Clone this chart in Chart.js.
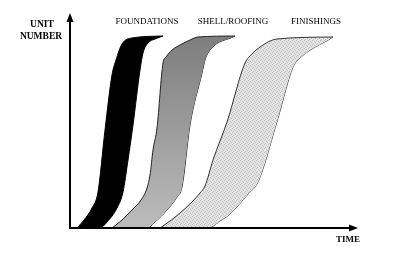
<!DOCTYPE html>
<html>
<head>
<meta charset="utf-8">
<script src="https://cdn.jsdelivr.net/npm/chart.js@4.4.1/dist/chart.umd.min.js"></script>
<style>
  html, body { margin: 0; padding: 0; background: #fff; }
  #wrap { width: 394px; height: 257px; position: relative; }
</style>
</head>
<body>
<div id="wrap"><canvas id="c" width="394" height="257"></canvas></div>
<script>
// Time (x) vs unit number (y) boundaries of each activity band (line of balance)
const foundationsStart = [[7,0],[14,8],[22,20],[28,36],[35,98],[42,153],[46,168],[52,184],[62,190],[93,192]];
const foundationsEnd   = [[7,0],[30,0],[37,6],[47,20],[53,36],[58,68],[63,103],[70,158],[73,175],[78,185],[85,189],[93,192]];
const shellStart       = [[42,0],[52,8],[62,18],[71,28],[77,40],[80,53],[83,78],[87,100],[93,165],[96,171],[102,178],[110,183],[120,188],[128,191],[165,192]];
const shellEnd         = [[42,0],[77,0],[85,6],[97,18],[107,31],[112,41],[120,103],[132,155],[135,168],[140,178],[165,192]];
const finishStart      = [[90,0],[100,7],[110,15],[122,26],[130,35],[135,42],[143,68],[157,106],[175,165],[182,174],[190,181],[207,189],[263,191]];
const finishEnd        = [[90,0],[138,0],[150,7],[160,14],[178,34],[188,46],[206,103],[223,161],[227,167],[263,191]];
const activityLabels   = ['FOUNDATIONS', 'SHELL/ROOFING', 'FINISHINGS'];
const axisLabels       = { y: ['UNIT', 'NUMBER'], x: 'TIME' };

const toPts = a => a.map(p => ({ x: p[0], y: p[1] }));

function stipple(base, dot) {
  const c = document.createElement('canvas');
  c.width = 4; c.height = 4;
  const g = c.getContext('2d');
  g.fillStyle = base; g.fillRect(0, 0, 4, 4);
  g.fillStyle = dot;
  g.fillRect(0, 0, 1, 1); g.fillRect(2, 1, 1, 1); g.fillRect(1, 3, 1, 1); g.fillRect(3, 2, 1, 1);
  return g.createPattern(c, 'repeat');
}
const ctx0 = document.getElementById('c').getContext('2d');
const finishFill = stipple('#e4e4e4', '#bdbdbd');

function shellFill(context) {
  const ch = context.chart; const a = ch.chartArea;
  if (!a) return '#999';
  const g = ch.ctx.createLinearGradient(0, a.top, 0, a.bottom);
  g.addColorStop(0, '#767676');
  g.addColorStop(1, '#bcbcbc');
  return g;
}

const base = { pointRadius: 0, cubicInterpolationMode: 'monotone', borderWidth: 1 };

const textPlugin = {
  id: 'lobText',
  afterDatasetsDraw(chart) {
    const c = chart.ctx, a = chart.chartArea;
    c.save();
    c.strokeStyle = '#000'; c.fillStyle = '#000'; c.lineWidth = 2;
    // axes
    c.beginPath();
    c.moveTo(a.left, a.bottom); c.lineTo(a.left, a.top + 6);
    c.moveTo(a.left - 1, a.bottom); c.lineTo(a.right - 6, a.bottom);
    c.stroke();
    c.beginPath();
    c.moveTo(a.left, a.top); c.lineTo(a.left - 3.5, a.top + 9); c.lineTo(a.left + 3.5, a.top + 9); c.closePath(); c.fill();
    c.beginPath();
    c.moveTo(a.right, a.bottom); c.lineTo(a.right - 9, a.bottom - 3.5); c.lineTo(a.right - 9, a.bottom + 3.5); c.closePath(); c.fill();
    // labels
    c.textAlign = 'center'; c.textBaseline = 'middle';
    c.font = 'bold 9.5px "Liberation Serif"';
    c.fillText(axisLabels.y[0], 42, 25);
    c.fillText(axisLabels.y[1], 41, 37);
    c.font = 'bold 9px "Liberation Serif"';
    c.fillText(axisLabels.x, 348, 240);
    c.font = '9px "Liberation Serif"';
    c.fillText(activityLabels[0], 147, 22);
    c.fillText(activityLabels[1], 233, 22);
    c.fillText(activityLabels[2], 316, 22);
    c.restore();
  }
};

new Chart(ctx0, {
  type: 'line',
  data: {
    datasets: [
      Object.assign({ label: 'Foundations start', data: toPts(foundationsStart), borderColor: '#000', backgroundColor: '#000', fill: '+1' }, base),
      Object.assign({ label: 'Foundations end', data: toPts(foundationsEnd), borderColor: '#000', fill: false }, base),
      Object.assign({ label: 'Shell start', data: toPts(shellStart), borderColor: '#222', backgroundColor: shellFill, fill: '+1' }, base),
      Object.assign({ label: 'Shell end', data: toPts(shellEnd), borderColor: '#222', fill: false }, base),
      Object.assign({ label: 'Finishings start', data: toPts(finishStart), borderColor: '#333', backgroundColor: finishFill, fill: '+1' }, base),
      Object.assign({ label: 'Finishings end', data: toPts(finishEnd), borderColor: '#333', fill: false }, base)
    ]
  },
  options: {
    responsive: false,
    animation: false,
    layout: { padding: { left: 70, right: 36, top: 13, bottom: 29 } },
    scales: {
      x: { type: 'linear', min: 0, max: 288, display: false },
      y: { type: 'linear', min: 0, max: 215, display: false }
    },
    plugins: { legend: { display: false }, tooltip: { enabled: false } }
  },
  plugins: [textPlugin]
});
</script>
</body>
</html>
